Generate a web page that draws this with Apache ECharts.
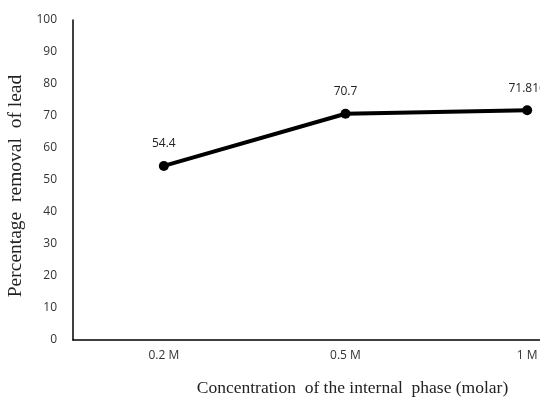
<!DOCTYPE html>
<html><head><meta charset="utf-8">
<script src="https://cdn.jsdelivr.net/npm/echarts@6/dist/echarts.min.js"></script>
<style>html,body{margin:0;padding:0;background:#fff;overflow:hidden;width:540px;height:401px}#c{width:640px;height:401px}</style>
</head><body><div id="c"></div>
<script>
const categories = ['0.2 M', '0.5 M', '1 M'];
const values = [54.4, 70.7, 71.816];
const valueLabels = ['54.4', '70.7', '71.816'];
const chart = echarts.init(document.getElementById('c'), null, {renderer: 'canvas'});
chart.setOption({
  animation: false,
  backgroundColor: '#fff',
  grid: {left: 73, width: 545, top: 20, height: 320, containLabel: false, outerBoundsMode: 'none'},
  xAxis: {
    type: 'category', data: categories, boundaryGap: true,
    axisLine: {lineStyle: {color: '#000', width: 1.5}},
    axisTick: {show: false},
    axisLabel: {color: '#333', fontFamily: 'Open Sans', fontSize: 12, margin: 10},
    name: 'Concentration  of the internal  phase (molar)',
    nameLocation: 'middle', nameGap: 39,
    nameTextStyle: {fontFamily: 'Liberation Serif', fontSize: 17.5, color: '#222', padding: [0, 0, 0, 14]}
  },
  yAxis: {
    type: 'value', min: 0, max: 100, interval: 10,
    splitLine: {show: false},
    axisLine: {show: true, lineStyle: {color: '#000', width: 1.5}},
    axisTick: {show: false},
    axisLabel: {color: '#333', fontFamily: 'Open Sans', fontSize: 12, margin: 16},
    name: 'Percentage  removal  of lead',
    nameLocation: 'middle', nameGap: 43, nameRotate: 90,
    nameTextStyle: {fontFamily: 'Liberation Serif', fontSize: 19.5, color: '#222', padding: [0, 12, 0, 0]}
  },
  series: [{
    type: 'line', data: values,
    lineStyle: {color: '#000', width: 4},
    itemStyle: {color: '#000'},
    symbol: 'circle', symbolSize: 10,
    label: {show: true, position: 'top', distance: 11, color: '#222', fontFamily: 'Open Sans', fontSize: 12,
      formatter: p => valueLabels[p.dataIndex]}
  }]
});
</script></body></html>
